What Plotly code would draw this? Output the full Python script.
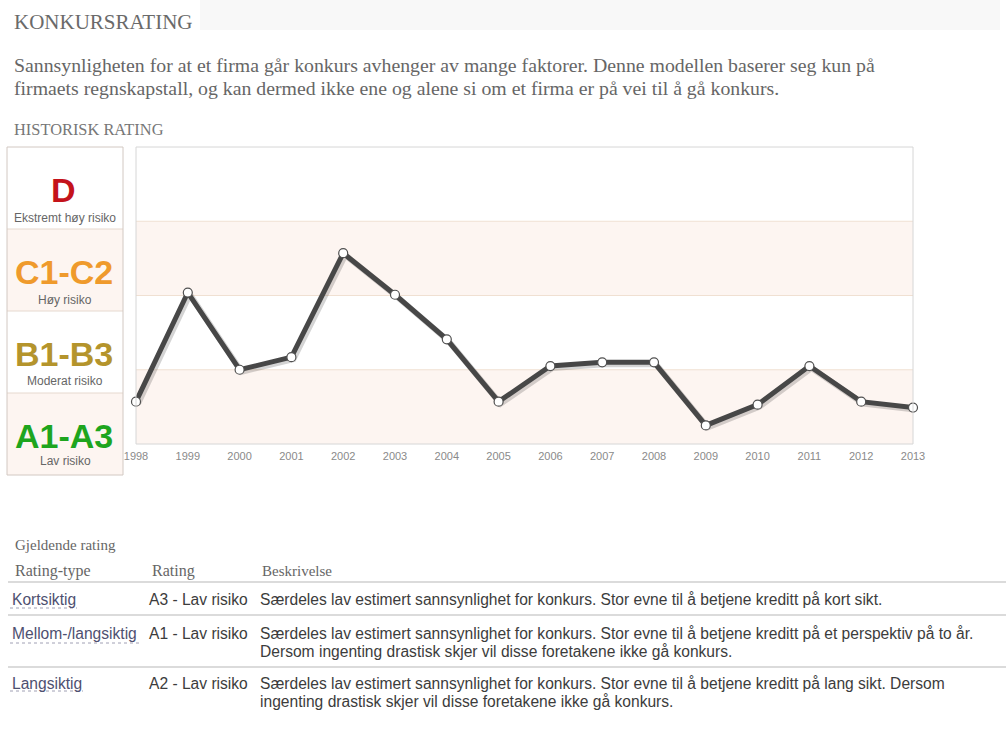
import plotly.graph_objects as go

# ---------------- data ----------------
years = [1998, 1999, 2000, 2001, 2002, 2003, 2004, 2005, 2006, 2007, 2008, 2009, 2010, 2011, 2012, 2013]
# rating score on a 0-4 scale (0-1 = A1-A3, 1-2 = B1-B3, 2-3 = C1-C2, 3-4 = D)
rating_score = [0.57, 2.04, 1.00, 1.17, 2.57, 2.01, 1.41, 0.57, 1.05, 1.10, 1.10, 0.25, 0.53, 1.05, 0.57, 0.49]

band_codes = ["A1-A3", "B1-B3", "C1-C2", "D"]
band_names = ["Lav risiko", "Moderat risiko", "Høy risiko", "Ekstremt høy risiko"]

title_text = "KONKURSRATING"
intro_lines = [
    "Sannsynligheten for at et firma går konkurs avhenger av mange faktorer. Denne modellen baserer seg kun på",
    "firmaets regnskapstall, og kan dermed ikke ene og alene si om et firma er på vei til å gå konkurs.",
]
chart_title = "HISTORISK RATING"

table_caption = "Gjeldende rating"
table_headers = ["Rating-type", "Rating", "Beskrivelse"]
rating_types = ["Kortsiktig", "Mellom-/langsiktig", "Langsiktig"]
ratings = ["A3 - Lav risiko", "A1 - Lav risiko", "A2 - Lav risiko"]
descriptions = [
    ["Særdeles lav estimert sannsynlighet for konkurs. Stor evne til å betjene kreditt på kort sikt."],
    ["Særdeles lav estimert sannsynlighet for konkurs. Stor evne til å betjene kreditt på et perspektiv på to år.",
     "Dersom ingenting drastisk skjer vil disse foretakene ikke gå konkurs."],
    ["Særdeles lav estimert sannsynlighet for konkurs. Stor evne til å betjene kreditt på lang sikt. Dersom",
     "ingenting drastisk skjer vil disse foretakene ikke gå konkurs."],
]

# ---------------- styles ----------------
W, H = 1006, 738
SERIF = "Liberation Serif, Times New Roman, serif"
SANS = "Liberation Sans, Arial, sans-serif"
band_colors = {"A1-A3": "#1ea51e", "B1-B3": "#b4942c", "C1-C2": "#ef9a2c", "D": "#c4131b"}
PINK = "#fdf5f1"
BANDLINE = "#f0e0d2"
TABLE_FS = 15.6


def px(x):
    return x / W


def py(y):
    return 1 - y / H


PL, PR, PT, PB = 136, 913, 147, 444  # plot area in pixels

fig = go.Figure()

# shadow of the line: same data on an axis pair whose domain sits 2px lower-right
fig.add_trace(go.Scatter(
    x=years, y=rating_score, mode="lines",
    line=dict(color="rgba(0,0,0,0.17)", width=6),
    xaxis="x", yaxis="y", hoverinfo="skip", showlegend=False, cliponaxis=False,
))
# main line on the true plot area
fig.add_trace(go.Scatter(
    x=years, y=rating_score, mode="lines+markers",
    line=dict(color="#474747", width=5),
    marker=dict(size=9, color="white", line=dict(color="#505050", width=1.2)),
    xaxis="x2", yaxis="y2", showlegend=False, cliponaxis=False,
))

shapes = []
# bands in plot
for i in range(4):
    shapes.append(dict(type="rect", xref="x2 domain", yref="y2", x0=0, x1=1, y0=i, y1=i + 1,
                       fillcolor=PINK if i % 2 == 0 else "white", line=dict(width=0), layer="below"))
for i in range(1, 4):
    shapes.append(dict(type="line", xref="x2 domain", yref="y2", x0=0, x1=1, y0=i, y1=i,
                       line=dict(color=BANDLINE, width=1), layer="below"))
shapes.append(dict(type="rect", xref="x2 domain", yref="y2 domain", x0=0, x1=1, y0=0, y1=1,
                   line=dict(color="#d6d6d6", width=1), layer="above"))

# header background
shapes.append(dict(type="rect", xref="paper", yref="paper", x0=px(200), x1=px(1000), y0=py(30), y1=py(0),
                   fillcolor="#f8f8f8", line=dict(width=0), layer="below"))

# left legend box
LB_L, LB_R = 7, 123
row_edges = [475, 393, 311, 229, 147]  # bottom to top
desc_off = [68, 70, 71, 71]
for i in range(4):
    shapes.append(dict(type="rect", xref="paper", yref="paper", x0=px(LB_L), x1=px(LB_R),
                       y0=py(row_edges[i]), y1=py(row_edges[i + 1]),
                       fillcolor=PINK if i % 2 == 0 else "white", line=dict(width=0), layer="below"))
for i in range(1, 4):
    shapes.append(dict(type="line", xref="paper", yref="paper", x0=px(LB_L), x1=px(LB_R),
                       y0=py(row_edges[i]), y1=py(row_edges[i]), line=dict(color="#e6d9cf", width=1)))
shapes.append(dict(type="rect", xref="paper", yref="paper", x0=px(LB_L), x1=px(LB_R),
                   y0=py(475), y1=py(147), line=dict(color="#d2c8c2", width=1)))

annotations = []
for i in range(4):
    top = row_edges[i + 1]
    annotations.append(dict(xref="paper", yref="paper", x=px(64), y=py(top + 42.5), text=f"<b>{band_codes[i]}</b>",
                            showarrow=False, xanchor="center", yanchor="middle",
                            font=dict(family=SANS, size=34, color=band_colors[band_codes[i]])))
    annotations.append(dict(xref="paper", yref="paper", x=px(65), y=py(top + desc_off[i]), text=band_names[i],
                            showarrow=False, xanchor="center", yanchor="middle",
                            font=dict(family=SANS, size=12, color="#666666")))

# texts above chart
annotations.append(dict(xref="paper", yref="paper", x=px(12), y=py(22), text=title_text, showarrow=False,
                        xanchor="left", yanchor="middle", font=dict(family=SERIF, size=21, color="#6a6a6a")))
for j, line in enumerate(intro_lines):
    annotations.append(dict(xref="paper", yref="paper", x=px(12), y=py(65 + 23 * j), text=line, showarrow=False,
                            xanchor="left", yanchor="middle", font=dict(family=SERIF, size=19.8, color="#666666")))
annotations.append(dict(xref="paper", yref="paper", x=px(12), y=py(130), text=chart_title, showarrow=False,
                        xanchor="left", yanchor="middle", font=dict(family=SERIF, size=16.4, color="#777777")))

# table
annotations.append(dict(xref="paper", yref="paper", x=px(13), y=py(545), text=table_caption, showarrow=False,
                        xanchor="left", yanchor="middle", font=dict(family=SERIF, size=15, color="#666666")))
col_x = [10, 147, 258]
head_x = [13, 150, 260]
head_fs = [16, 16, 15]
for k, h in enumerate(table_headers):
    annotations.append(dict(xref="paper", yref="paper", x=px(head_x[k]), y=py(571), text=h, showarrow=False,
                            xanchor="left", yanchor="middle",
                            font=dict(family=SERIF, size=head_fs[k], color="#666666")))
for ly in [582, 615, 667]:
    shapes.append(dict(type="line", xref="paper", yref="paper", x0=px(8), x1=1, y0=py(ly), y1=py(ly),
                       line=dict(color="#cfcfcf", width=1.5)))

row_tops = [599, 633, 683]
underline = [(10, 77, 608), (10, 142, 643), (10, 83, 691)]
for r in range(3):
    y0 = row_tops[r]
    annotations.append(dict(xref="paper", yref="paper", x=px(col_x[0]), y=py(y0), text=rating_types[r],
                            showarrow=False, xanchor="left", yanchor="middle",
                            font=dict(family=SANS, size=TABLE_FS, color="#4e5070")))
    annotations.append(dict(xref="paper", yref="paper", x=px(col_x[1]), y=py(y0), text=ratings[r],
                            showarrow=False, xanchor="left", yanchor="middle",
                            font=dict(family=SANS, size=TABLE_FS, color="#3c3c3c")))
    for j, dl in enumerate(descriptions[r]):
        annotations.append(dict(xref="paper", yref="paper", x=px(col_x[2]), y=py(y0 + 18 * j), text=dl,
                                showarrow=False, xanchor="left", yanchor="middle",
                                font=dict(family=SANS, size=TABLE_FS, color="#3c3c3c")))
    ux0, ux1, uy = underline[r]
    shapes.append(dict(type="line", xref="paper", yref="paper", x0=px(ux0), x1=px(ux1), y0=py(uy), y1=py(uy),
                       line=dict(color="#a0a0b4", width=1, dash="dot")))

fig.update_layout(
    width=W, height=H, autosize=False,
    margin=dict(l=0, r=0, t=0, b=0, pad=0, autoexpand=False),
    paper_bgcolor="white", plot_bgcolor="rgba(0,0,0,0)",
    showlegend=False,
    # shadow axes (shifted 2px right / 2px down)
    xaxis=dict(domain=[px(PL + 2), px(PR + 2)], range=[1998, 2013], visible=False, automargin=False,
               anchor="y", fixedrange=True),
    yaxis=dict(domain=[py(PB + 2), py(PT + 2)], range=[0, 4], visible=False, automargin=False,
               anchor="x", fixedrange=True),
    # main axes
    xaxis2=dict(domain=[px(PL), px(PR)], range=[1998, 2013], tickvals=years, ticktext=[str(y) for y in years],
                showgrid=False, zeroline=False, showline=False, ticks="", ticklabelstandoff=4,
                automargin=False, anchor="y2",
                tickfont=dict(family=SANS, size=11, color="#8a8a8a"), fixedrange=True),
    yaxis2=dict(domain=[py(PB), py(PT)], range=[0, 4], visible=False, automargin=False,
                anchor="x2", fixedrange=True),
    shapes=shapes,
    annotations=annotations,
)

fig.write_html("out.html")
